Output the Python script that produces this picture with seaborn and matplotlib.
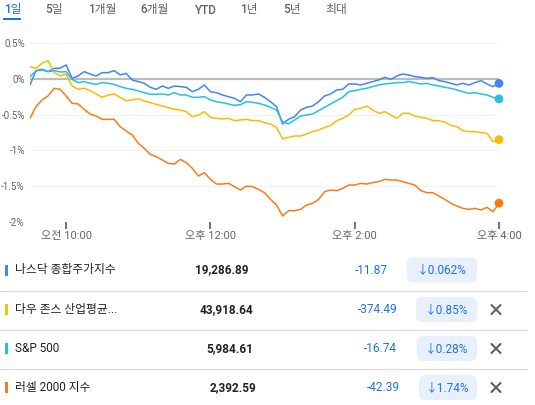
import numpy as np
import pandas as pd
import matplotlib
matplotlib.use("Agg")
import matplotlib.pyplot as plt
from matplotlib.patches import FancyBboxPatch, Rectangle
import seaborn as sns

# time grid: minutes after 9:30, every 5 minutes up to 16:00
minutes = np.arange(0, 391, 5)

nasdaq = [-0.084, 0.117, 0.136, 0.103, 0.150, 0.150, 0.196, 0.009, 0.042, 0.103,
          0.070, 0.042, 0.089, 0.089, 0.117, 0.056, 0.079, -0.014, -0.037, -0.061,
          -0.117, -0.145, -0.098, -0.131, -0.098, -0.107, -0.117, -0.178, -0.145, -0.084,
          -0.178, -0.192, -0.224, -0.248, -0.271, -0.318, -0.224, -0.224, -0.210, -0.257,
          -0.318, -0.388, -0.630, -0.565, -0.528, -0.435, -0.397, -0.379, -0.318, -0.238,
          -0.210, -0.154, -0.145, -0.070, -0.070, -0.084, -0.061, -0.037, -0.014, 0.023,
          -0.005, 0.042, 0.070, 0.056, 0.033, 0.023, 0.009, 0.019, -0.023, -0.037,
          -0.061, -0.084, -0.061, -0.084, -0.051, -0.023, -0.070, -0.107, -0.062]

dow = [0.173, 0.150, 0.220, 0.257, 0.089, 0.042, 0.070, -0.098, -0.145, -0.131,
       -0.164, -0.210, -0.257, -0.224, -0.210, -0.257, -0.304, -0.294, -0.276, -0.308,
       -0.332, -0.355, -0.379, -0.402, -0.425, -0.435, -0.458, -0.528, -0.505, -0.458,
       -0.537, -0.551, -0.561, -0.551, -0.584, -0.575, -0.565, -0.584, -0.584, -0.612,
       -0.631, -0.678, -0.840, -0.818, -0.799, -0.799, -0.771, -0.738, -0.715, -0.678,
       -0.654, -0.584, -0.551, -0.505, -0.425, -0.411, -0.379, -0.435, -0.481, -0.458,
       -0.505, -0.551, -0.481, -0.481, -0.519, -0.537, -0.551, -0.584, -0.584, -0.603,
       -0.650, -0.668, -0.724, -0.738, -0.738, -0.752, -0.762, -0.879, -0.850]

sp500 = [0.033, 0.112, 0.126, 0.103, 0.117, 0.098, 0.103, -0.005, -0.051, -0.037,
         -0.061, -0.075, -0.051, -0.061, -0.075, -0.107, -0.131, -0.145, -0.168, -0.192,
         -0.215, -0.215, -0.210, -0.224, -0.192, -0.224, -0.224, -0.257, -0.257, -0.248,
         -0.294, -0.318, -0.332, -0.350, -0.369, -0.360, -0.318, -0.327, -0.341, -0.364,
         -0.397, -0.435, -0.598, -0.631, -0.575, -0.519, -0.505, -0.491, -0.444, -0.397,
         -0.350, -0.304, -0.257, -0.178, -0.164, -0.145, -0.131, -0.107, -0.084, -0.070,
         -0.061, -0.051, -0.051, -0.037, -0.051, -0.070, -0.061, -0.084, -0.098, -0.117,
         -0.131, -0.154, -0.178, -0.201, -0.192, -0.210, -0.224, -0.257, -0.280]

russell = [-0.551, -0.388, -0.294, -0.238, -0.131, -0.145, -0.238, -0.341, -0.350, -0.425,
           -0.491, -0.519, -0.565, -0.565, -0.565, -0.668, -0.729, -0.785, -0.902, -0.972,
           -1.056, -1.089, -1.136, -1.182, -1.192, -1.126, -1.173, -1.252, -1.360, -1.313,
           -1.407, -1.472, -1.472, -1.463, -1.509, -1.556, -1.500, -1.509, -1.547, -1.593,
           -1.687, -1.766, -1.920, -1.846, -1.846, -1.827, -1.766, -1.743, -1.687, -1.579,
           -1.556, -1.565, -1.533, -1.486, -1.486, -1.463, -1.472, -1.453, -1.439, -1.407,
           -1.416, -1.416, -1.439, -1.463, -1.486, -1.565, -1.593, -1.593, -1.640, -1.687,
           -1.743, -1.780, -1.813, -1.827, -1.813, -1.836, -1.799, -1.860, -1.740]

names = ['나스닥 종합주가지수', '다우 존스 산업평균...', 'S&P 500', '러셀 2000 지수']
prices = ['19,286.89', '43,918.64', '5,984.61', '2,392.59']
changes = ['-11.87', '-374.49', '-16.74', '-42.39']
pcts = ['↓0.062%', '↓0.85%', '↓0.28%', '↓1.74%']
colors = ['#4285f4', '#fbbc04', '#24c1e0', '#fa7b17']

tabs = ['1일', '5일', '1개월', '6개월', 'YTD', '1년', '5년', '최대']
tab_x = [4, 45, 88, 140, 195, 240, 283, 325]

ytick_vals = [0.5, 0, -0.5, -1, -1.5, -2]
ytick_labels = ['0.5%', '0%', '-0.5%', '-1%', '-1.5%', '-2%']
xtick_vals = [30, 150, 270, 390]
xtick_labels = ['오전 10:00', '오후 12:00', '오후 2:00', '오후 4:00']

sns.set_style('white')
plt.rcParams['font.family'] = ['Roboto', 'Noto Sans CJK KR', 'DejaVu Sans']

W, H = 535, 405
fig = plt.figure(figsize=(W / 100, H / 100), dpi=100)

# background axes in pixel coordinates for tabs and table
bg = fig.add_axes([0, 0, 1, 1])
bg.set_xlim(0, W)
bg.set_ylim(H, 0)
bg.axis('off')

# chart
ax = fig.add_axes([30 / W, 1 - 221.7 / H, (499 - 30) / W, (221.7 - 43.3) / H])
df = pd.DataFrame({
    'min': np.tile(minutes, 4),
    'val': np.concatenate([nasdaq, dow, sp500, russell]),
    'series': np.repeat(names, len(minutes)),
})
for y in ytick_vals:
    if y == 0:
        ax.axhline(y, color='#bdbdbd', lw=1.6, zorder=1)
    else:
        ax.axhline(y, color='#f1f3f4', lw=0.8, zorder=0)
sns.lineplot(data=df, x='min', y='val', hue='series', hue_order=names,
             palette=colors, lw=1.1, legend=False, ax=ax, zorder=3)
for vals, c in zip([nasdaq, dow, sp500, russell], colors):
    ax.scatter(minutes[-1], vals[-1], s=40, color=c, zorder=4, clip_on=False,
               edgecolor='none')
ax.set_xlim(0, 390)
ax.set_ylim(-2, 0.5)
for s in ax.spines.values():
    s.set_visible(False)
ax.set_yticks(ytick_vals)
ax.set_yticklabels(ytick_labels)
ax.set_xticks(xtick_vals)
ax.set_xticklabels(xtick_labels)
ax.tick_params(axis='y', length=0, pad=3.8, labelsize=7, labelcolor='#5f6368')
ax.tick_params(axis='x', length=5, width=1.4, color='#70757a', pad=2,
               labelsize=8, labelcolor='#5f6368', bottom=True)
ax.set_xlabel('')
ax.set_ylabel('')
ax.patch.set_alpha(0)

# tabs
for i, (t, x) in enumerate(zip(tabs, tab_x)):
    bg.text(x, 10, t, fontsize=8.5, color='#1a73e8' if i == 0 else '#5f6368',
            va='center', ha='left', fontweight='medium')
bg.add_patch(Rectangle((3, 17.5), 18, 2, color='#1a73e8', lw=0))

# table
row_y = [270, 309.5, 348.5, 387.5]
price_end = [249, 253, 253, 256]
chg_end = [388, 397, 397, 400]
pill_left = [407, 416, 417, 419]
for i in range(4):
    y = row_y[i]
    bg.add_patch(Rectangle((5, y - 5.5), 2.5, 11, color=colors[i], lw=0))
    bg.text(15, y, names[i], fontsize=8.5, color='#202124', va='center', ha='left')
    bg.text(price_end[i], y, prices[i], fontsize=8.5, color='#202124',
            va='center', ha='right', fontweight='bold')
    bg.text(chg_end[i], y, changes[i], fontsize=8.5, color='#1a73e8',
            va='center', ha='right')
    bg.add_patch(FancyBboxPatch((pill_left[i] + 4, y - 8.5), 477 - pill_left[i] - 8, 17,
                                boxstyle='round,pad=4,rounding_size=6',
                                fc='#e8f0fe', ec='none'))
    bg.text((pill_left[i] + 477) / 2, y, pcts[i], fontsize=8.5, color='#1a73e8',
            va='center', ha='center')
    if i > 0:
        bg.plot([491.5, 500.5], [y - 4.5, y + 4.5], color='#5f6368', lw=1.5)
        bg.plot([491.5, 500.5], [y + 4.5, y - 4.5], color='#5f6368', lw=1.5)
    if i < 3:
        bg.plot([0, 527], [y + 20.5, y + 20.5], color='#dadce0', lw=0.9)

fig.savefig('out.png', dpi=100)
